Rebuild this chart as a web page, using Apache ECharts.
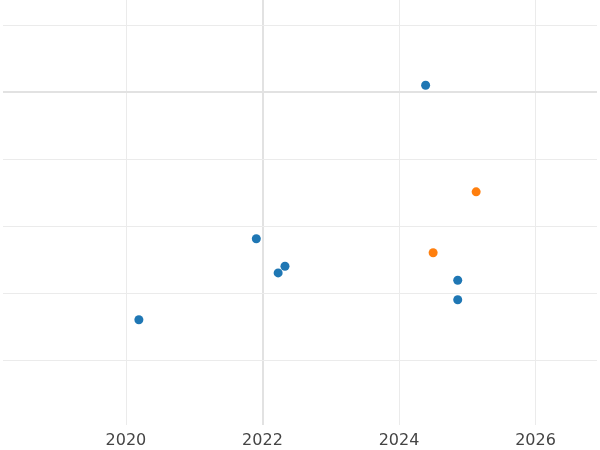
<!DOCTYPE html><html><head><meta charset="utf-8"><script src="https://cdn.jsdelivr.net/npm/echarts@6/dist/echarts.min.js"></script></head><body style="margin:0"><div id="c" style="width:600px;height:450px"></div><script>
const blueX=[2020.19,2021.91,2022.23,2022.33,2024.39,2024.86,2024.86];
const blueY=[0.60,1.81,1.30,1.40,4.10,1.19,0.90];
const orangeX=[2024.50,2025.13];
const orangeY=[1.60,2.51];
const xTicks=[2020,2022,2024,2026];
const yTicks=[0,1,2,3,4,5];
const zip=(a,b)=>a.map((v,i)=>[v,b[i]]);
const thin={color:'#ebebeb',width:1,type:'solid'}, thick={color:'#e2e2e2',width:2,type:'solid'};
const lines=[...xTicks.map(v=>({xAxis:v,lineStyle:v===2022?thick:thin})),...yTicks.map(v=>({yAxis:v,lineStyle:v===4?thick:thin}))];
const ch=echarts.init(document.getElementById('c'));
ch.setOption({animation:false,
grid:{left:0,right:0,top:0,bottom:25},
xAxis:{type:'value',min:2018.2,max:2026.9,interval:0.1,axisLine:{show:false},axisTick:{show:false},splitLine:{show:false},
 axisLabel:{color:'#444',fontSize:16,fontFamily:'DejaVu Sans',margin:8,formatter:v=>{const r=Math.round(v);return (Math.abs(v-r)<1e-6&&xTicks.includes(r))?String(r):'';}}},
yAxis:{type:'value',min:-0.97,max:5.373,axisLine:{show:false},axisTick:{show:false},axisLabel:{show:false},splitLine:{show:false}},
series:[
{type:'scatter',data:zip(blueX,blueY),symbolSize:9,itemStyle:{color:'#1f77b4',opacity:1},z:3,
 markLine:{silent:true,symbol:'none',label:{show:false},z:1,data:lines}},
{type:'scatter',data:zip(orangeX,orangeY),symbolSize:9,itemStyle:{color:'#ff7f0e',opacity:1},z:3}
]});
</script></body></html>
